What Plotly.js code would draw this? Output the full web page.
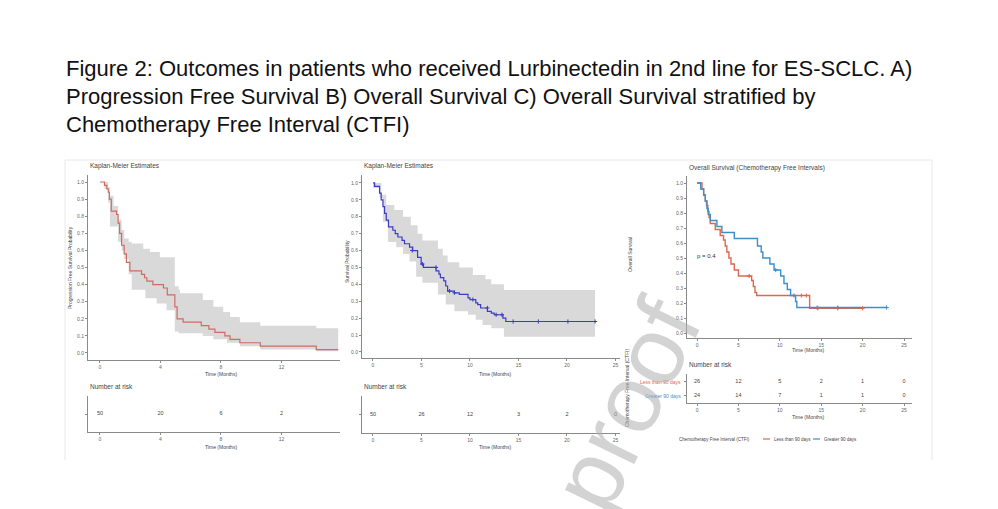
<!DOCTYPE html>
<html>
<head>
<meta charset="utf-8">
<script src="https://cdn.plot.ly/plotly-3.0.1.min.js"></script>
<style>html,body{margin:0;padding:0;background:#fff;}#chart{width:998px;height:509px;}</style>
</head>
<body>
<div id="chart"></div>
<script>
// ---------- caption ----------
const captionLines = [
  "Figure 2: Outcomes in patients who received Lurbinectedin in 2nd line for ES-SCLC. A)",
  "Progression Free Survival B) Overall Survival C) Overall Survival stratified by",
  "Chemotherapy Free Interval (CTFI)"
];

// ---------- Panel A: progression free survival ----------
const pfsTime = [0, 0.3, 0.45, 0.55, 0.62, 0.75, 1.1, 1.2, 1.3, 1.43, 1.6, 1.75, 1.98, 2.75, 2.95, 3.1, 3.5, 4.2, 4.45, 4.95, 5.1, 5.5, 6.7, 7.2, 7.6, 8.26, 8.6, 9.25, 10.6, 14.3, 15.75];
const pfsSurv = [1.0, 0.98, 0.96, 0.94, 0.90, 0.83, 0.81, 0.76, 0.70, 0.63, 0.58, 0.53, 0.48, 0.46, 0.44, 0.42, 0.40, 0.38, 0.34, 0.27, 0.20, 0.18, 0.16, 0.14, 0.12, 0.10, 0.08, 0.06, 0.04, 0.02, 0.02];
const pfsCiTime  = [0, 0.3, 0.55, 0.66, 0.9, 1.2, 1.43, 1.6, 1.9, 2.1, 2.86, 3.0, 3.3, 3.75, 3.96, 4.4, 4.95, 5.2, 5.3, 6.8, 7.5, 8.15, 8.4, 8.6, 9.25, 10.6, 14.3, 15.75];
const pfsCiUpper = [1.0, 1.0, 0.97, 0.92, 0.86, 0.78, 0.72, 0.67, 0.65, 0.64, 0.61, 0.61, 0.59, 0.59, 0.56, 0.56, 0.39, 0.37, 0.35, 0.31, 0.27, 0.24, 0.24, 0.21, 0.18, 0.16, 0.145, 0.145];
const pfsCiLower = [1.0, 0.96, 0.88, 0.74, 0.74, 0.65, 0.60, 0.55, 0.46, 0.37, 0.37, 0.32, 0.32, 0.29, 0.29, 0.25, 0.125, 0.115, 0.115, 0.10, 0.08, 0.08, 0.06, 0.06, 0.04, 0.02, 0.01, 0.01];
const pfsTicks = [0, 4, 8, 12];
const pfsRiskN = [50, 20, 6, 2];

// ---------- Panel B: overall survival ----------
const osTime = [0, 0.17, 0.68, 0.85, 1.03, 1.2, 1.37, 1.6, 2.05, 2.3, 2.57, 3.0, 3.25, 3.77, 4.1, 4.6, 4.97, 5.2, 6.5, 6.8, 6.95, 7.3, 7.5, 7.7, 8.4, 8.9, 9.8, 10.0, 10.6, 10.8, 11.1, 11.8, 12.2, 12.5, 13.4, 13.7, 22.9];
const osSurv = [1.0, 0.98, 0.94, 0.90, 0.86, 0.82, 0.78, 0.74, 0.72, 0.70, 0.68, 0.66, 0.64, 0.62, 0.60, 0.56, 0.52, 0.50, 0.48, 0.46, 0.44, 0.42, 0.39, 0.36, 0.35, 0.34, 0.32, 0.31, 0.29, 0.28, 0.26, 0.24, 0.23, 0.22, 0.20, 0.18, 0.18];
const osCensorTime = [4.05, 5.1, 6.5, 7.9, 8.4, 10.3, 11.8, 12.7, 13.3, 14.45, 17.05, 20.1, 22.9];
const osCensorSurv = [0.60, 0.52, 0.50, 0.36, 0.35, 0.31, 0.26, 0.22, 0.22, 0.18, 0.18, 0.18, 0.18];
const osCiTime  = [0, 0.68, 0.86, 1.03, 1.37, 1.54, 2.2, 2.4, 3.1, 3.77, 3.9, 4.45, 4.6, 5.1, 6.7, 7.2, 7.5, 7.7, 8.4, 8.9, 9.8, 10.3, 10.6, 11.3, 11.6, 12.2, 13.5, 22.9];
const osCiUpper = [1.0, 1.0, 0.93, 0.93, 0.87, 0.87, 0.84, 0.84, 0.80, 0.80, 0.75, 0.75, 0.70, 0.66, 0.61, 0.57, 0.57, 0.53, 0.53, 0.50, 0.50, 0.455, 0.455, 0.455, 0.43, 0.40, 0.366, 0.366];
const osCiLower = [0.97, 0.91, 0.91, 0.77, 0.77, 0.65, 0.65, 0.62, 0.58, 0.535, 0.535, 0.445, 0.445, 0.41, 0.34, 0.34, 0.28, 0.28, 0.24, 0.24, 0.22, 0.22, 0.19, 0.16, 0.16, 0.14, 0.09, 0.09];
const osTicks = [0, 5, 10, 15, 20, 25];
const osRiskN = [50, 26, 12, 3, 2, 0];

// ---------- Panel C: OS by chemotherapy free interval ----------
const groupNames = ["Less than 90 days", "Greater 90 days"];
const lessTime = [0, 0.6, 0.8, 1.0, 1.15, 1.3, 1.45, 1.6, 2.2, 2.8, 3.2, 3.4, 3.6, 3.85, 4.1, 4.5, 5.0, 6.6, 6.8, 7.0, 7.2, 13.6, 20.0];
const lessSurv = [1.0, 0.96, 0.92, 0.88, 0.85, 0.81, 0.77, 0.73, 0.69, 0.65, 0.62, 0.58, 0.54, 0.50, 0.46, 0.42, 0.38, 0.35, 0.31, 0.27, 0.25, 0.165, 0.165];
const lessCensorTime = [6.3, 12.6, 13.2, 14.6, 17.0, 20.0];
const lessCensorSurv = [0.38, 0.25, 0.25, 0.165, 0.165, 0.165];
const greaterTime = [0, 0.45, 0.8, 1.0, 1.2, 1.35, 1.6, 2.4, 3.0, 4.5, 7.3, 7.75, 7.95, 8.8, 9.3, 10.1, 10.5, 10.9, 11.3, 11.9, 12.05, 22.9];
const greaterSurv = [1.0, 0.96, 0.92, 0.88, 0.83, 0.79, 0.75, 0.71, 0.67, 0.63, 0.58, 0.54, 0.50, 0.46, 0.42, 0.38, 0.33, 0.29, 0.25, 0.21, 0.17, 0.17];
const greaterCensorTime = [9.5, 11.7, 14.5, 17.0, 22.9];
const greaterCensorSurv = [0.42, 0.25, 0.17, 0.17, 0.17];
const ctfiTicks = [0, 5, 10, 15, 20, 25];
const lessRiskN = [26, 12, 5, 2, 1, 0];
const greaterRiskN = [24, 14, 7, 1, 1, 0];
const pValueText = "p = 0.4";

const survTicks = [0, 0.1, 0.2, 0.3, 0.4, 0.5, 0.6, 0.7, 0.8, 0.9, 1.0];

// ---------- styling ----------
const W = 998, H = 509;
const px = v => v / W;
const py = v => 1 - v / H;
const FONT = "Liberation Sans, Arial, sans-serif";
const RED_A = "#cf6b63", BLUE_B = "#3b3bc4", RED_C = "#e0674f", BLUE_C = "#3d8ec9", CI = "#d9d9d9";

function stepTrace(x, y, color, xa, ya, w) {
  return {x: x, y: y, mode: "lines", line: {shape: "hv", color: color, width: w || 1.2},
          xaxis: xa, yaxis: ya, hoverinfo: "skip", showlegend: false};
}
function ciTraces(t, lo, hi, xa, ya) {
  return [
    {x: t, y: lo, mode: "lines", line: {shape: "hv", width: 0, color: CI}, xaxis: xa, yaxis: ya, hoverinfo: "skip", showlegend: false},
    {x: t, y: hi, mode: "lines", line: {shape: "hv", width: 0, color: CI}, fill: "tonexty", fillcolor: CI, xaxis: xa, yaxis: ya, hoverinfo: "skip", showlegend: false}
  ];
}
function censorTrace(x, y, color, xa, ya) {
  return {x: x, y: y, mode: "markers", marker: {symbol: "cross-thin", size: 3, line: {color: color, width: 1}, color: color},
          xaxis: xa, yaxis: ya, hoverinfo: "skip", showlegend: false};
}
function riskTrace(x, n, yv, xa, ya) {
  return {x: x, y: x.map(() => yv), text: n.map(String), mode: "text", textfont: {size: 5.5, color: "#444", family: FONT},
          xaxis: xa, yaxis: ya, hoverinfo: "skip", showlegend: false};
}

const data = [
  ...ciTraces(pfsCiTime, pfsCiLower, pfsCiUpper, "x", "y"),
  stepTrace(pfsTime, pfsSurv, RED_A, "x", "y"),
  riskTrace(pfsTicks, pfsRiskN, 0.5, "x2", "y2"),
  ...ciTraces(osCiTime, osCiLower, osCiUpper, "x3", "y3"),
  stepTrace(osTime, osSurv, BLUE_B, "x3", "y3"),
  censorTrace(osCensorTime, osCensorSurv, BLUE_B, "x3", "y3"),
  riskTrace(osTicks, osRiskN, 0.5, "x4", "y4"),
  stepTrace(lessTime, lessSurv, RED_C, "x5", "y5", 1.4),
  stepTrace(greaterTime, greaterSurv, BLUE_C, "x5", "y5", 1.4),
  censorTrace(lessCensorTime, lessCensorSurv, RED_C, "x5", "y5"),
  censorTrace(greaterCensorTime, greaterCensorSurv, BLUE_C, "x5", "y5"),
  riskTrace(ctfiTicks, lessRiskN, 1.45, "x6", "y6"),
  riskTrace(ctfiTicks, greaterRiskN, 0.5, "x6", "y6")
];

const tickFont = {size: 5, color: "#666", family: FONT};
function xax(dom, range, ticks, anchor) {
  return {domain: dom, range: range, tickvals: ticks, ticktext: ticks.map(String), anchor: anchor,
          showline: true, linecolor: "#8a8a8a", linewidth: 1, ticks: "outside", ticklen: 2, tickcolor: "#8a8a8a",
          tickfont: tickFont, showgrid: false, zeroline: false, fixedrange: true};
}
function yax(dom, range, anchor, tv, tt) {
  return {domain: dom, range: range, anchor: anchor, tickvals: tv, ticktext: tt,
          showline: true, linecolor: "#8a8a8a", linewidth: 1, ticks: "outside", ticklen: 2, tickcolor: "#8a8a8a",
          tickfont: tickFont, showgrid: false, zeroline: false, fixedrange: true};
}
const survText = survTicks.map(v => v.toFixed(1));

const ann = [];
function txt(text, x, y, size, opts) {
  ann.push(Object.assign({text: text, x: px(x), y: py(y), xref: "paper", yref: "paper", showarrow: false,
    xanchor: "center", yanchor: "middle", font: {size: size, color: "#444", family: FONT}}, opts || {}));
}
captionLines.forEach((l, i) => txt(l, 64, 68 + 28 * i, 22, {xanchor: "left", font: {size: 22, color: "#111", family: FONT}}));
txt("Kaplan-Meier Estimates", 88, 166, 6.5, {xanchor: "left"});
txt("Kaplan-Meier Estimates", 362, 166, 6.5, {xanchor: "left"});
txt("Overall Survival (Chemotherapy Free Intervals)", 687, 168, 6.5, {xanchor: "left"});
txt("Progression Free Survival Probability", 70, 268, 5, {textangle: -90});
txt("Survival Probability", 347, 262, 5, {textangle: -90});
txt("Overall Survival", 630, 255, 5, {textangle: -90});
txt("Time (Months)", 221, 374, 5);
txt("Time (Months)", 495, 374, 5);
txt("Time (Months)", 808, 350, 5);
txt("Number at risk", 88, 386, 6.5, {xanchor: "left"});
txt("Number at risk", 362, 386, 6.5, {xanchor: "left"});
txt("Number at risk", 687, 364, 6.5, {xanchor: "left"});
txt("Time (Months)", 221, 447, 5);
txt("Time (Months)", 495, 447, 5);
txt("Time (Months)", 808, 417, 5);
txt(groupNames[0], 683, 382, 5, {xanchor: "right", font: {size: 5, color: RED_C, family: FONT}});
txt(groupNames[1], 683, 396, 5, {xanchor: "right", font: {size: 5, color: BLUE_C, family: FONT}});
txt("Chemotherapy Free Interval (CTFI)", 627, 388, 5, {textangle: -90});
txt(pValueText, 695, 256, 6, {xanchor: "left", font: {size: 6, color: "#333", family: FONT}});
txt("Chemotherapy Free Interval (CTFI)", 677, 439, 4.5, {xanchor: "left"});
txt(groupNames[0], 772, 439, 4.5, {xanchor: "left"});
txt(groupNames[1], 822, 439, 4.5, {xanchor: "left"});
// watermark
txt("proof", 625, 405, 96, {textangle: -64, font: {size: 96, color: "rgba(175,175,175,0.55)", family: FONT}});

const shp = [
  {type: "line", xref: "paper", yref: "paper", x0: px(65), x1: px(932), y0: py(160), y1: py(160), line: {color: "#e8e8e8", width: 1}},
  {type: "line", xref: "paper", yref: "paper", x0: px(65), x1: px(65), y0: py(160), y1: py(460), line: {color: "#e8e8e8", width: 1}},
  {type: "line", xref: "paper", yref: "paper", x0: px(932), x1: px(932), y0: py(160), y1: py(460), line: {color: "#e8e8e8", width: 1}},
  {type: "line", xref: "paper", yref: "paper", x0: px(763), x1: px(770), y0: py(439), y1: py(439), line: {color: RED_C, width: 1.2}},
  {type: "line", xref: "paper", yref: "paper", x0: px(813), x1: px(820), y0: py(439), y1: py(439), line: {color: BLUE_C, width: 1.2}}
];

const layout = {
  width: W, height: H, margin: {l: 0, r: 0, t: 0, b: 0},
  paper_bgcolor: "#fff", plot_bgcolor: "#fff", showlegend: false,
  xaxis:  xax([px(88), px(340)], [-0.79, 15.87], pfsTicks, "y"),
  yaxis:  yax([py(360), py(175)], [-0.041, 1.041], "x", survTicks, survText),
  xaxis2: xax([px(88), px(340)], [-0.79, 15.87], pfsTicks, "y2"),
  yaxis2: yax([py(432), py(396)], [0, 1], "x2", [0.5], [""]),
  xaxis3: xax([px(362), px(620)], [-1.13, 25.47], osTicks, "y3"),
  yaxis3: yax([py(358), py(175)], [-0.036, 1.047], "x3", survTicks, survText),
  xaxis4: xax([px(362), px(620)], [-1.13, 25.47], osTicks, "y4"),
  yaxis4: yax([py(433), py(396)], [0, 1], "x4", [0.5], [""]),
  xaxis5: xax([px(687), px(912)], [-1.21, 25.96], ctfiTicks, "y5"),
  yaxis5: yax([py(338), py(176)], [-0.033, 1.047], "x5", survTicks, survText),
  xaxis6: xax([px(687), px(912)], [-1.21, 25.96], ctfiTicks, "y6"),
  yaxis6: yax([py(403), py(374)], [0, 2], "x6", [1.45, 0.5], ["", ""]),
  annotations: ann, shapes: shp
};

Plotly.newPlot("chart", data, layout, {staticPlot: true, displayModeBar: false});
</script>
</body>
</html>
